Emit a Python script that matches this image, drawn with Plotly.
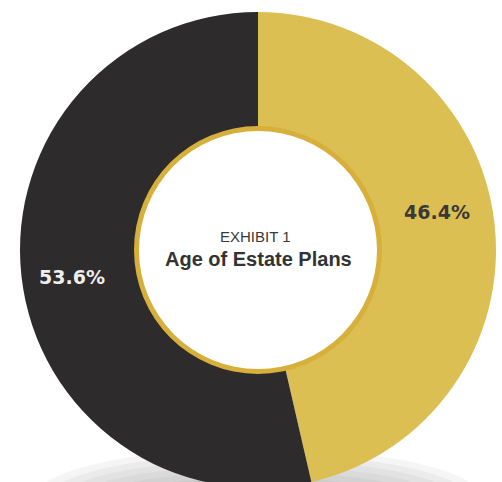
import plotly.graph_objects as go

labels = ["Gold", "Dark"]
values = [46.4, 53.6]
slice_colors = ["#dcbf52", "#2d2b2b"]
text_colors = ["#3a3838", "#eeeeee"]
label_pos = [(437, 212), (72, 277)]  # page-pixel anchor of each percentage label
subtitle = "EXHIBIT 1"
title = "Age of Estate Plans"

W, H = 502, 490
ML, MR, MT, MB = 20, 6, 12, 2
PW = W - ML - MR
PH = H - MT - MB


def px(x):
    return (x - ML) / PW


def py(y):
    return (H - MB - y) / PH


fig = go.Figure()

# soft shadow under the ring
for hw, hh, op in [(225, 52, 0.08), (212, 46, 0.08), (198, 40, 0.08), (182, 34, 0.08),
                   (165, 28, 0.08), (148, 22, 0.08)]:
    cx, cy = 258, 500
    fig.add_shape(type="circle", xref="paper", yref="paper", layer="below",
                  x0=px(cx - hw), x1=px(cx + hw), y0=py(cy + hh), y1=py(cy - hh),
                  fillcolor="#7a7a7a", opacity=op, line=dict(width=0))

fig.add_trace(go.Pie(
    labels=labels, values=values, sort=False, direction="clockwise", rotation=0,
    hole=0.513, marker=dict(colors=slice_colors, line=dict(width=0)),
    textinfo="none", showlegend=False, hoverinfo="skip",
    domain=dict(x=[0, 1], y=[0, 1]),
))

# thin gold rim around the hole
r_out = 124
fig.add_trace(go.Pie(
    values=[1], sort=False, hole=119 / r_out,
    marker=dict(colors=["#d6b03a"], line=dict(width=0)),
    textinfo="none", showlegend=False, hoverinfo="skip",
    domain=dict(x=[px(258 - r_out), px(258 + r_out)], y=[py(250 + r_out), py(250 - r_out)]),
))

for v, c, (lx, ly) in zip(values, text_colors, label_pos):
    fig.add_annotation(text=f"<b>{v:.1f}%</b>", x=px(lx), y=py(ly),
                       xref="paper", yref="paper", showarrow=False,
                       xanchor="center", yanchor="middle",
                       font=dict(family="DejaVu Sans", size=19, color=c))

fig.add_annotation(text=subtitle, x=px(255), y=py(236),
                   xref="paper", yref="paper", showarrow=False,
                   xanchor="center", yanchor="middle",
                   font=dict(family="Liberation Sans", size=15, color="#3a3a3a"))
fig.add_annotation(text="<b>" + title + "</b>", x=px(258), y=py(259),
                   xref="paper", yref="paper", showarrow=False,
                   xanchor="center", yanchor="middle",
                   font=dict(family="Liberation Sans", size=20, color="#333333"))

fig.update_layout(width=W, height=H, margin=dict(l=ML, r=MR, t=MT, b=MB),
                  paper_bgcolor="white", plot_bgcolor="white")

fig.write_html("out.html", config={"displayModeBar": False},
               post_script="document.body.style.margin='0';document.body.style.overflow='hidden';")
